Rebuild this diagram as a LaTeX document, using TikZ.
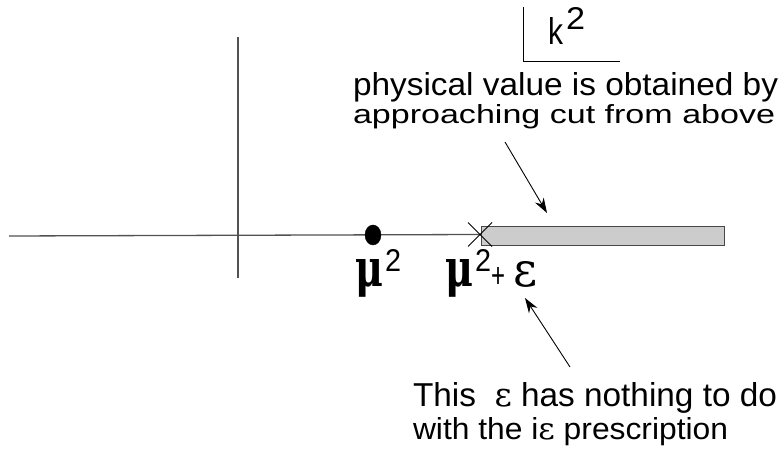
\documentclass[tikz,border=0pt]{standalone}
\usepackage{fontspec}
\setmainfont{Liberation Sans}
\newfontfamily\greekserif{DejaVu Serif}
\usetikzlibrary{arrows.meta,calc,shapes.geometric}
\newcommand{\fitbox}[3]{\resizebox{#1pt}{#2pt}{#3}}
\begin{document}
\begin{tikzpicture}[x=1pt,y=-1pt,
  axisline/.style={draw=black!68,line width=1.3pt},
  lbl/.style={anchor=base west,inner sep=0pt,outer sep=0pt},
  pointer/.style={draw=black,line width=0.9pt,-{Stealth[length=15pt,width=10pt]}},
  cutbox/.style={draw=black!72,line width=1.2pt,fill=black!20}]
\useasboundingbox (0,0) rectangle (780,454);
% axes
\coordinate (xl) at (9,236);
\coordinate (yt) at (238,37);
\coordinate (yb) at (238,278);
\coordinate (cr) at (480,234.5);
\draw[axisline] (xl) -- (cr);
\draw[axisline] (yt) -- (yb);
% branch cut
\node[cutbox,anchor=north west,minimum width=243pt,minimum height=19pt,inner sep=0pt] (cut) at (481,226) {};
% cross at threshold
\draw[black,line width=0.8pt] ($(cr)+(-12,-12)$) -- ($(cr)+(12,12)$) ($(cr)+(-12,12)$) -- ($(cr)+(12,-12)$);
% mu^2 dot
\node[draw=black,fill=black,ellipse,minimum width=16pt,minimum height=20pt,inner sep=0pt] (dot) at (373,235) {};
% k^2 box
\coordinate (kt) at (523,7);
\coordinate (kc) at (523,62);
\coordinate (kr) at (620,62);
\draw[black,line width=1pt] (kt) -- (kc) -- (kr);
\node[lbl] (k) at (548,45) {\fitbox{15}{27}{k}};
\node[lbl] (k2) at (566,30) {\fitbox{19}{22}{2}};
% mu labels
\node[lbl] (mu1) at (355,287) {\fitbox{28}{27}{\greekserif\bfseries μ}};
\node[lbl] (mu1s) at (385,272) {\fitbox{16}{22}{2}};
\node[lbl] (mu2) at (445,287) {\fitbox{28}{27}{\greekserif\bfseries μ}};
\node[lbl] (mu2s) at (475,272) {\fitbox{16}{22}{2}};
\node[lbl] (plus) at (491,288) {\fitbox{14}{20}{+}};
\node[lbl] (eps) at (513,287) {\fitbox{24}{25}{\greekserif ε}};
% annotations
\node[lbl] (t1) at (353,96) {\fitbox{425}{23}{physical value is obtained by}};
\node[lbl] (t2) at (353,124) {\fitbox{422}{19}{approaching cut from above}};
\node[lbl] (b1) at (413,407) {\fitbox{364}{24}{This\ \ {\greekserif ε} has nothing to do}};
\node[lbl] (b2) at (413,440) {\fitbox{315}{22}{with the i{\greekserif ε} prescription}};
% pointers
\coordinate (a1s) at (505,142);
\coordinate (a1e) at (547,213);
\coordinate (a2s) at (570,367);
\coordinate (a2e) at (525,298);
\draw[pointer] (a1s) -- (a1e);
\draw[pointer] (a2s) -- (a2e);
\end{tikzpicture}
\end{document}
